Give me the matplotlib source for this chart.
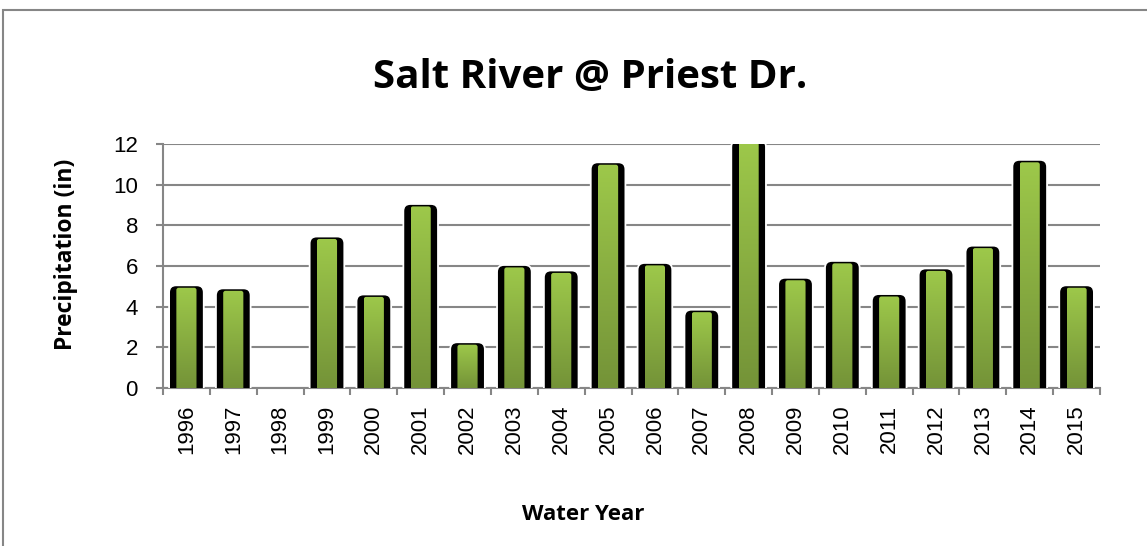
import matplotlib
matplotlib.use("Agg")
import matplotlib.pyplot as plt
import numpy as np
from matplotlib.patches import FancyBboxPatch, Rectangle

# water years and precipitation (in); 2008 runs past the 12 in axis top
years = ["1996", "1997", "1998", "1999", "2000", "2001", "2002", "2003", "2004", "2005",
         "2006", "2007", "2008", "2009", "2010", "2011", "2012", "2013", "2014", "2015"]
precip = [5.05, 4.9, 0.0, 7.45, 4.6, 9.05, 2.25, 6.05, 5.78, 11.1,
          6.15, 3.85, 12.2, 5.42, 6.25, 4.62, 5.88, 7.0, 11.22, 5.05]

W, H = 1147, 546
fig = plt.figure(figsize=(W / 100, H / 100), dpi=100)
ax = fig.add_axes([163 / W, 1 - 388 / H, (1100 - 163) / W, (388 - 144) / H])

# outer chart border
fig.patches.append(Rectangle((3 / W, -0.1), 1.2, 1 - 10 / H + 0.1, transform=fig.transFigure,
                             fill=False, edgecolor="#868686", linewidth=1.5, zorder=0))

n = len(years)

# pixels per data unit, for round corners
px_x = (1100 - 163) / n
px_y = (388 - 144) / 12
aspect = px_x / px_y

green_top = np.array([0x9d, 0xc8, 0x4a]) / 255
green_bot = np.array([0x74, 0x93, 0x38]) / 255
grad = np.linspace(0, 1, 64)[:, None, None]
grad_img = green_top * (1 - grad) + green_bot * grad

for i, v in enumerate(precip):
    if v <= 0:
        continue
    bw = 0.74
    shadow = FancyBboxPatch((i - bw / 2, -1), bw, v + 1,
                            boxstyle="round,pad=0,rounding_size=0.15",
                            mutation_aspect=aspect, facecolor="black",
                            edgecolor="white", linewidth=1.3, zorder=3)
    ax.add_patch(shadow)
    gw = 0.43
    gtop = v - 0.12
    body = FancyBboxPatch((i - gw / 2, -1), gw, gtop + 1,
                          boxstyle="round,pad=0,rounding_size=0.05",
                          mutation_aspect=aspect, facecolor="none",
                          edgecolor="none", zorder=4)
    ax.add_patch(body)
    im = ax.imshow(grad_img, extent=(i - gw / 2, i + gw / 2, 0, gtop),
                   aspect="auto", zorder=4, interpolation="bilinear")
    im.set_clip_path(body)

ax.set_xlim(-0.5, n - 0.5)
ax.set_ylim(0, 12)

# grid and spines
ax.set_yticks(np.arange(0, 13, 2))
ax.yaxis.grid(True, color="#868686", linewidth=1.5, zorder=1)
ax.set_axisbelow(True)
for s in ["top", "right"]:
    ax.spines[s].set_visible(False)
ax.spines["left"].set_color("#868686")
ax.spines["left"].set_linewidth(1.5)
ax.spines["bottom"].set_color("#868686")
ax.spines["bottom"].set_linewidth(1.5)

ax.set_xticks(np.arange(n))
ax.set_xticklabels(years, rotation=90, fontsize=16, family="Liberation Sans")
ax.tick_params(axis="x", length=0, pad=12)
ax.set_xticks(np.arange(n + 1) - 0.5, minor=True)
ax.tick_params(axis="x", which="minor", length=5, width=1.5, color="#868686")
ax.tick_params(axis="y", length=5, width=1.5, color="#868686", labelsize=16, pad=13)
for lab in ax.get_yticklabels():
    lab.set_family("Liberation Sans")

fig.text(590 / W, 1 - 78 / H, "Salt River @ Priest Dr.", ha="center", va="center",
         fontsize=29, fontweight="bold", family="Open Sans")
fig.text(66 / W, 1 - 254 / H, "Precipitation (in)", ha="center", va="center",
         rotation=90, fontsize=16.5, fontweight="bold", family="Open Sans")
fig.text(583 / W, 1 - 514 / H, "Water Year", ha="center", va="center",
         fontsize=16, fontweight="bold", family="Open Sans")

fig.savefig("out.png", dpi=100)
